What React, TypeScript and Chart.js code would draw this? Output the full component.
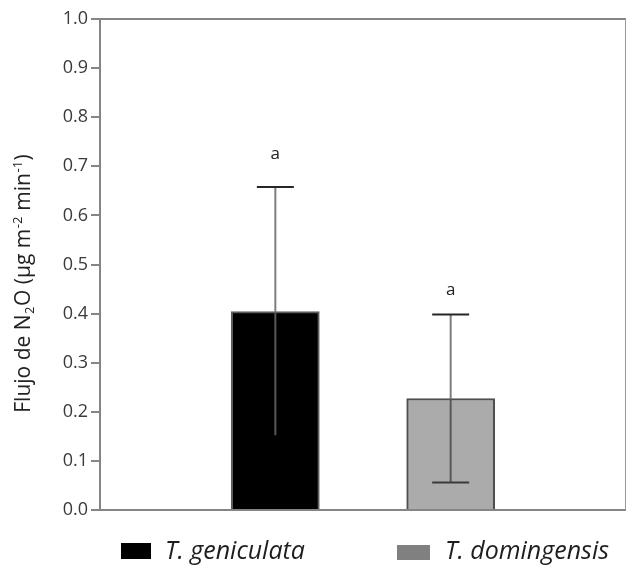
import React, { useEffect, useRef } from 'react';
import { Chart, registerables } from 'chart.js';

Chart.register(...registerables);

// ---- data ----
const categories = ['', 'T. geniculata', 'T. domingensis', ''];
const species = ['T. geniculata', 'T. domingensis'];
const meanFlux = [0.404, 0.227];
const sdFlux = [0.254, 0.171];
const letters = ['a', 'a'];
const letterLevel = [0.725, 0.447];
const yTickLabels = ['0.0', '0.1', '0.2', '0.3', '0.4', '0.5', '0.6', '0.7', '0.8', '0.9', '1.0'];

// ---- styles ----
const barFills = ['#000000', '#ababab'];
const barBorders = ['#5c5c5c', '#4f4f4f'];
const legendFills = ['#000000', '#808080'];
const axisColor = '#858585';
const FONT = "'Open Sans', 'Noto Sans', sans-serif";

const errorBarPlugin = {
  id: 'errorBars',
  afterDatasetsDraw(chart: any) {
    const ctx = chart.ctx;
    const yScale = chart.scales.y;
    chart.data.datasets.forEach((ds: any, di: number) => {
      const meta = chart.getDatasetMeta(di);
      meta.data.forEach((el: any, j: number) => {
        const v = ds.data[j];
        if (v === null || v === undefined) return;
        const sd = sdFlux[di];
        const x = el.x;
        const yHi = yScale.getPixelForValue(v + sd);
        const yLo = yScale.getPixelForValue(v - sd);
        const yMid = yScale.getPixelForValue(v);
        ctx.save();
        ctx.lineWidth = 2;
        ctx.strokeStyle = '#7d7d7d';
        ctx.beginPath();
        ctx.moveTo(x, yHi);
        ctx.lineTo(x, yMid);
        ctx.stroke();
        ctx.strokeStyle = '#585858';
        ctx.beginPath();
        ctx.moveTo(x, yMid);
        ctx.lineTo(x, yLo);
        ctx.stroke();
        const half = 18.5;
        ctx.strokeStyle = '#262626';
        ctx.beginPath();
        ctx.moveTo(x - half, yHi);
        ctx.lineTo(x + half, yHi);
        ctx.stroke();
        ctx.strokeStyle = di === 0 ? '#000000' : '#3a3a3a';
        ctx.beginPath();
        ctx.moveTo(x - half, yLo);
        ctx.lineTo(x + half, yLo);
        ctx.stroke();
        ctx.fillStyle = '#222222';
        ctx.font = `17px ${FONT}`;
        ctx.textAlign = 'center';
        ctx.textBaseline = 'middle';
        ctx.fillText(letters[di], x, yScale.getPixelForValue(letterLevel[di]));
        ctx.restore();
      });
    });
  },
};

const framePlugin = {
  id: 'frame',
  afterDraw(chart: any) {
    const ctx = chart.ctx;
    const ca = chart.chartArea;
    ctx.save();
    ctx.strokeStyle = axisColor;
    ctx.lineWidth = 2;
    ctx.beginPath();
    ctx.moveTo(ca.left - 1, ca.top);
    ctx.lineTo(ca.right, ca.top);
    ctx.stroke();
    ctx.strokeStyle = '#9a9a9a';
    ctx.lineWidth = 1;
    ctx.beginPath();
    ctx.moveTo(ca.right - 0.5, ca.top);
    ctx.lineTo(ca.right - 0.5, ca.bottom);
    ctx.stroke();
    ctx.restore();
  },
};

const yTitlePlugin = {
  id: 'yTitle',
  afterDraw(chart: any) {
    const ctx = chart.ctx;
    const ca = chart.chartArea;
    const big = 21;
    const small = 13;
    const parts: [string, string][] = [
      ['Flujo de N', 'n'],
      ['2', 'sub'],
      ['O (μg m', 'n'],
      ['-2', 'sup'],
      [' min', 'n'],
      ['-1', 'sup'],
      [')', 'n'],
    ];
    ctx.save();
    const widths = parts.map(([t, k]) => {
      ctx.font = `${k === 'n' ? big : small}px ${FONT}`;
      return ctx.measureText(t).width + (k === 'n' ? 0 : 1);
    });
    const total = widths.reduce((a, b) => a + b, 0);
    ctx.translate(23, (ca.top + ca.bottom) / 2 + 19);
    ctx.rotate(-Math.PI / 2);
    ctx.fillStyle = '#222222';
    ctx.textAlign = 'left';
    ctx.textBaseline = 'alphabetic';
    let x = -total / 2;
    parts.forEach(([t, k], i) => {
      ctx.font = `${k === 'n' ? big : small}px ${FONT}`;
      const dy = k === 'sub' ? 11 : k === 'sup' ? -1 : 7;
      ctx.fillText(t, x + (k === 'n' ? 0 : 0.5), dy);
      x += widths[i];
    });
    ctx.restore();
  },
};

const legendPlugin = {
  id: 'customLegend',
  afterDraw(chart: any) {
    const ctx = chart.ctx;
    const items = [
      { bx: 121, by: 543, bw: 30, bh: 16, tx: 165 },
      { bx: 397, by: 545, bw: 33, bh: 15, tx: 445 },
    ];
    ctx.save();
    ctx.font = `italic 25px ${FONT}`;
    ctx.textBaseline = 'middle';
    ctx.textAlign = 'left';
    species.forEach((name, i) => {
      const it = items[i];
      ctx.fillStyle = legendFills[i];
      ctx.fillRect(it.bx, it.by, it.bw, it.bh);
      ctx.fillStyle = '#1e1e1e';
      ctx.fillText(name, it.tx, 552);
    });
    ctx.restore();
  },
};

export default function App() {
  const ref = useRef<HTMLCanvasElement | null>(null);
  useEffect(() => {
    if (!ref.current) return;
    const datasets = species.map((s, i) => ({
      label: s,
      data: categories.map((_, j) => (j === i + 1 ? meanFlux[i] : null)),
      backgroundColor: barFills[i],
      borderColor: barBorders[i],
      borderWidth: 2,
      borderSkipped: 'start' as const,
      barThickness: 88,
      grouped: false,
    }));
    const chart = new Chart(ref.current, {
      type: 'bar',
      data: { labels: categories, datasets },
      options: {
        animation: false,
        responsive: false,
        layout: { padding: { top: 19, right: 0, bottom: 62, left: 0 } },
        plugins: { legend: { display: false }, tooltip: { enabled: false } },
        scales: {
          x: {
            offset: false,
            grid: { display: false },
            ticks: { display: false },
            border: { display: true, color: axisColor, width: 2 },
            afterFit: (s: any) => {
              s.height = 0;
            },
          },
          y: {
            min: 0,
            max: 1,
            ticks: {
              stepSize: 0.1,
              padding: 3,
              color: '#3a3a3a',
              font: { family: FONT, size: 18 },
              callback: (_v: any, idx: number) => yTickLabels[idx],
            },
            grid: {
              display: true,
              drawOnChartArea: false,
              drawTicks: true,
              tickLength: 9,
              color: axisColor,
              lineWidth: 2,
            },
            border: { display: true, color: axisColor, width: 2 },
            afterFit: (s: any) => {
              s.width = 100;
            },
          },
        },
      },
      plugins: [errorBarPlugin, framePlugin, yTitlePlugin, legendPlugin],
    });
    return () => chart.destroy();
  }, []);
  return (
    <div style={{ position: 'fixed', left: 0, top: 0, width: 626, height: 572, background: '#fff' }}>
      <canvas ref={ref} width={626} height={572} style={{ display: 'block' }} />
    </div>
  );
}
